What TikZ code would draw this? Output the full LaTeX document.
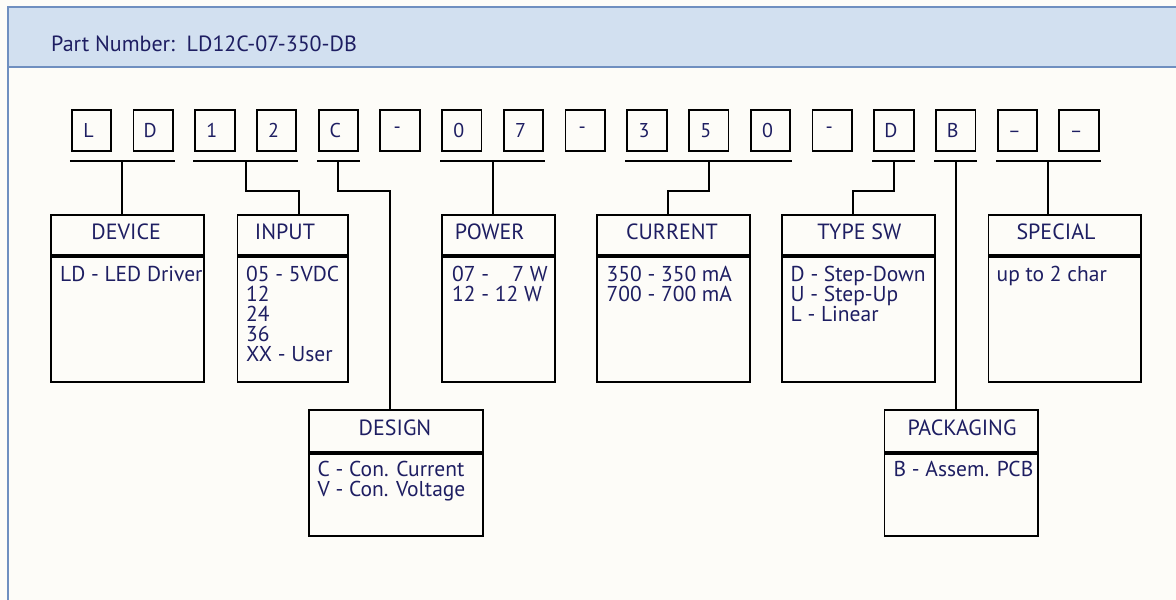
\documentclass[tikz,border=0pt]{standalone}
\usepackage{fontspec}
\setmainfont{PT Sans}
\usetikzlibrary{calc}
\definecolor{bg}{HTML}{FDFCF8}
\definecolor{hdrfill}{HTML}{D2E0F0}
\definecolor{hdrline}{HTML}{6F8FC0}
\definecolor{ink}{HTML}{1E1E62}
\tikzset{
  charbox/.style={draw=black, line width=1.8pt, minimum width=39.5pt, minimum height=41.5pt, inner sep=0pt},
  chartext/.style={text=ink, inner sep=0pt, font=\fontsize{20}{20}\selectfont},
  wire/.style={draw=black, line width=1.8pt},
  hbox/.style={draw=black, line width=1.8pt, minimum height=40pt, inner sep=0pt, anchor=north west},
  bbox/.style={draw=black, line width=1.8pt, inner sep=0pt, anchor=north},
  ttl/.style={text=ink, inner sep=0pt, anchor=base, font=\fontsize{22}{22}\selectfont},
  bodytxt/.style={text=ink, inner sep=0pt, anchor=base west},
}
\newcommand\btext[1]{\parbox[t]{180pt}{\raggedright\fontsize{21.5}{20.2}\selectfont #1}}
\begin{document}
\begin{tikzpicture}[x=1pt,y=-1pt]
\useasboundingbox (0,0) rectangle (1176,600);
\fill[bg] (0,0) rectangle (1176,600);
% header band and frame
\fill[hdrfill] (8.3,6.7) rectangle (1180,67.3);
\draw[hdrline, line width=2pt] (1180,6.7) -- (8.3,6.7) -- (8.3,610);
\draw[hdrline, line width=2pt] (8.3,67.3) -- (1180,67.3);
\node[anchor=base west, inner sep=0pt, text=ink, font=\fontsize{22}{24}\selectfont] (pn) at (51,51) {Part Number:\ \ LD12C-07-350-DB};

% character boxes
\foreach \ch [count=\i from 0] in {L,D,1,2,C,-,0,7,-,3,5,0,-,D,B,\_,\_} {
  \node[charbox] (b\i) at ({91.45+61.73*\i},130.4) {};
  \node[chartext] (t\i) at ([xshift=-3pt]b\i.center) {\ch};
}
\coordinate (ul) at (0,161);
\coordinate (el) at (0,191);
% underlines with midpoints
\draw[wire] ([xshift=-0.9pt]b0.west |- ul) -- coordinate (gLD) ([xshift=0.9pt]b1.east |- ul);
\draw[wire] ([xshift=-0.9pt]b2.west |- ul) -- coordinate (gIN) ([xshift=0.9pt]b3.east |- ul);
\draw[wire] ([xshift=-0.9pt]b4.west |- ul) -- coordinate (gDS) ([xshift=0.9pt]b4.east |- ul);
\draw[wire] ([xshift=-0.9pt]b6.west |- ul) -- coordinate (gPW) ([xshift=0.9pt]b7.east |- ul);
\draw[wire] ([xshift=-0.9pt]b9.west |- ul) -- coordinate (gCU) ([xshift=0.9pt]b11.east |- ul);
\draw[wire] ([xshift=-0.9pt]b13.west |- ul) -- coordinate (gTS) ([xshift=0.9pt]b13.east |- ul);
\draw[wire] ([xshift=-0.9pt]b14.west |- ul) -- coordinate (gPK) ([xshift=0.9pt]b14.east |- ul);
\draw[wire] ([xshift=-0.9pt]b15.west |- ul) -- coordinate (gSP) ([xshift=0.9pt]b16.east |- ul);

% --- upper row boxes
% DEVICE
\node[hbox, minimum width=153pt] (device) at (50.2,214.2) {};
\node[bbox, minimum width=153pt, minimum height=125pt] (device-b) at (device.south) {};
\node[ttl] (device-t) at (126.2,239) {DEVICE};
\node[bodytxt] (device-x) at (60,281) {\btext{LD - LED Driver}};
% INPUT
\node[hbox, minimum width=110.8pt] (input) at (236.6,214.2) {};
\node[bbox, minimum width=110.8pt, minimum height=125pt] (input-b) at (input.south) {};
\node[ttl] (input-t) at (285,239) {INPUT};
\node[bodytxt] (input-x) at (246,281) {\btext{05 - 5VDC\\12\\24\\36\\XX - User}};
% POWER
\node[hbox, minimum width=112.6pt] (power) at (441.2,214.2) {};
\node[bbox, minimum width=112.6pt, minimum height=125pt] (power-b) at (power.south) {};
\node[ttl] (power-t) at (489.7,239) {POWER};
\node[bodytxt] (power-x) at (452,281) {\btext{07 - \ \phantom{1}7 W\\12 - 12 W}};
% CURRENT
\node[hbox, minimum width=153.2pt] (current) at (596.2,214.2) {};
\node[bbox, minimum width=153.2pt, minimum height=125pt] (current-b) at (current.south) {};
\node[ttl] (current-t) at (672,239) {CURRENT};
\node[bodytxt] (current-x) at (606.5,281) {\btext{350 - 350 mA\\700 - 700 mA}};
% TYPE SW
\node[hbox, minimum width=152.9pt] (typesw) at (781.2,214.2) {};
\node[bbox, minimum width=152.9pt, minimum height=125pt] (typesw-b) at (typesw.south) {};
\node[ttl] (typesw-t) at (859.3,239) {TYPE SW};
\node[bodytxt] (typesw-x) at (790.5,281) {\btext{D - Step-Down\\U - Step-Up\\L - Linear}};
% SPECIAL
\node[hbox, minimum width=152.8pt] (special) at (987.6,214.2) {};
\node[bbox, minimum width=152.8pt, minimum height=125pt] (special-b) at (special.south) {};
\node[ttl] (special-t) at (1056,239) {SPECIAL};
\node[bodytxt] (special-x) at (996.5,281) {\btext{up to 2 char}};

% --- lower row boxes
% DESIGN
\node[hbox, minimum width=173.6pt, minimum height=41.7pt] (design) at (308.2,409.2) {};
\node[bbox, minimum width=173.6pt, minimum height=82.3pt] (design-b) at (design.south) {};
\node[ttl] (design-t) at (395,435) {DESIGN};
\node[bodytxt] (design-x) at (317.5,476) {\btext{C - Con. Current\\V - Con. Voltage}};
% PACKAGING
\node[hbox, minimum width=153.2pt, minimum height=41.7pt] (packaging) at (883.6,409.2) {};
\node[bbox, minimum width=153.2pt, minimum height=82.3pt] (packaging-b) at (packaging.south) {};
\node[ttl] (packaging-t) at (962,435) {PACKAGING};
\node[bodytxt] (packaging-x) at (893.5,476) {\btext{B - Assem. PCB}};

% connectors
\draw[wire] (gLD) -- (gLD |- device.north);
\draw[wire] (gIN) |- ([xshift=5.7pt]input.north |- el) -- ([xshift=5.7pt]input.north);
\draw[wire] (gDS) |- ([xshift=-6.2pt]design.north |- el) -- ([xshift=-6.2pt]design.north);
\draw[wire] (gPW) -- (gPW |- power.north);
\draw[wire] (gCU) |- ([xshift=-5.8pt]current.north |- el) -- ([xshift=-5.8pt]current.north);
\draw[wire] (gTS) |- ([xshift=-5.4pt]typesw.north |- el) -- ([xshift=-5.4pt]typesw.north);
\draw[wire] (gPK) -- (gPK |- packaging.north);
\draw[wire] (gSP) -- (gSP |- special.north);
\end{tikzpicture}
\end{document}
